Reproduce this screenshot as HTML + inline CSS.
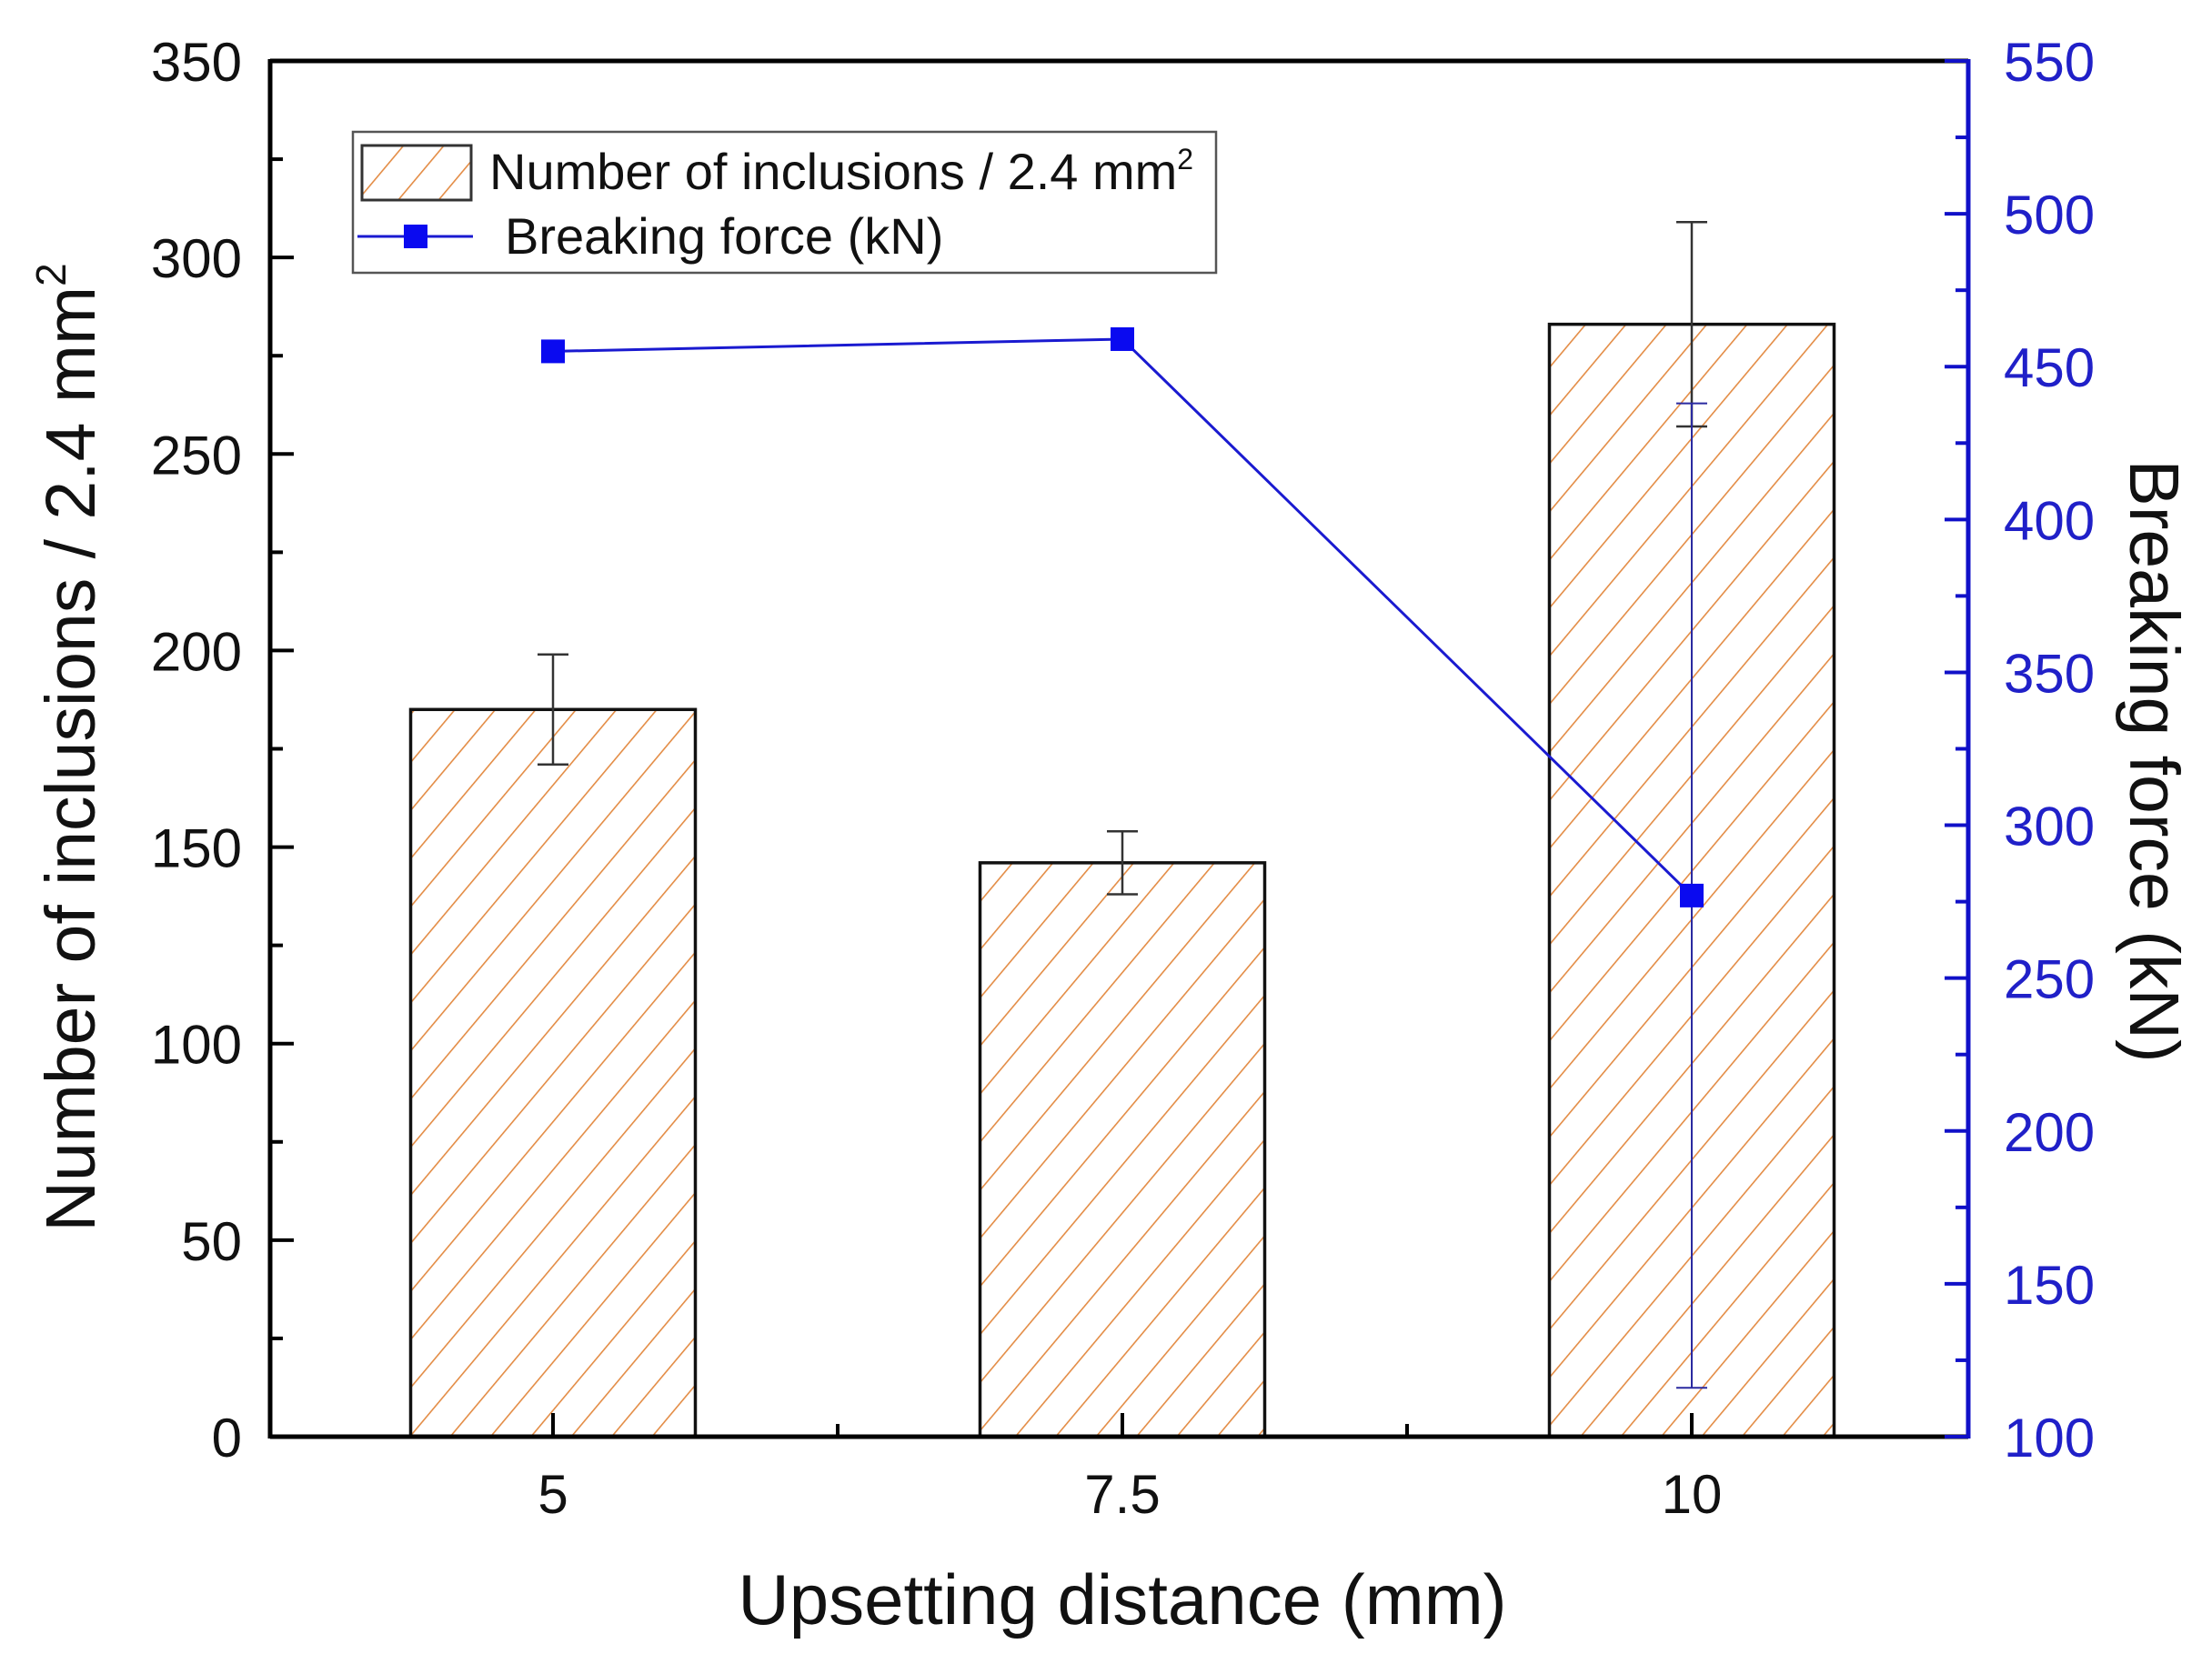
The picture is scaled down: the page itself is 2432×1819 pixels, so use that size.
<!DOCTYPE html>
<html><head><meta charset="utf-8"><style>
html,body{margin:0;padding:0;background:#fff}
svg{display:block;font-family:"Liberation Sans",Arial,sans-serif}
</style></head><body>
<svg id="chart" width="2432" height="1819" viewBox="0 0 2432 1819" xmlns="http://www.w3.org/2000/svg">
<defs>
<pattern id="hatch" patternUnits="userSpaceOnUse" width="34" height="34" patternTransform="rotate(40)">
<line x1="0" y1="0" x2="0" y2="34" stroke="#e38c45" stroke-width="3.2"/>
</pattern>
</defs>
<g id="plot"></g>
</svg>
<script>
const categories = ["5", "7.5", "10"];
const inclusions = [185, 146, 283];
const inclusionErr = [14, 8, 26];
const force = [455, 459, 277];
const forceErr = [0, 0, 161];
const leftTicks = [0, 50, 100, 150, 200, 250, 300, 350];
const rightTicks = [100, 150, 200, 250, 300, 350, 400, 450, 500, 550];

const L = 297, R = 2164, T = 67, B = 1580;
const NS = "http://www.w3.org/2000/svg";
const g = document.getElementById('plot');
const yL = v => B - v / 350 * (B - T);
const yR = v => B - (v - 100) / 450 * (B - T);
const xC = i => 608 + i * 626;
const barW = 313;

function mk(tag, attrs, parent) {
  const e = document.createElementNS(NS, tag);
  for (const k in attrs) e.setAttribute(k, attrs[k]);
  (parent || g).appendChild(e);
  return e;
}

inclusions.forEach((v, i) => {
  const r = mk('rect', {x: xC(i) - barW / 2, y: yL(v), width: barW, height: B - yL(v), fill: 'url(#hatch)', stroke: '#111', 'stroke-width': 3.5});
  
  
  const top = yL(v + inclusionErr[i]), bot = yL(v - inclusionErr[i]);
  const eb = mk('path', {d: `M${xC(i)} ${top}V${bot}M${xC(i)-17} ${top}H${xC(i)+17}M${xC(i)-17} ${bot}H${xC(i)+17}`, stroke: '#333', 'stroke-width': 2.5, fill: 'none'});
  
  
});

mk('line', {x1: L, y1: T, x2: R, y2: T, stroke: '#000', 'stroke-width': 5});
mk('line', {x1: L, y1: B, x2: R, y2: B, stroke: '#000', 'stroke-width': 5});
mk('line', {x1: L, y1: T - 2, x2: L, y2: B + 2, stroke: '#000', 'stroke-width': 5});
mk('line', {x1: R, y1: T - 2, x2: R, y2: B + 2, stroke: '#1010c8', 'stroke-width': 5});

for (let v = 0; v <= 350; v += 25) {
  const len = v % 50 === 0 ? 26 : 14;
  mk('line', {x1: L, y1: yL(v), x2: L + len, y2: yL(v), stroke: '#000', 'stroke-width': 4});
}
leftTicks.forEach(v => {
  const t = mk('text', {x: 266, y: yL(v) + 22, 'text-anchor': 'end', 'font-size': 60, fill: '#111'});
  t.textContent = v;
  
  
});
for (let v = 100; v <= 550; v += 25) {
  const len = v % 50 === 0 ? 26 : 14;
  mk('line', {x1: R, y1: yR(v), x2: R - len, y2: yR(v), stroke: '#1010c8', 'stroke-width': 4});
}
rightTicks.forEach(v => {
  const t = mk('text', {x: 2203, y: yR(v) + 22, 'font-size': 60, fill: '#2020c8'});
  t.textContent = v;
  
  
});
categories.forEach((c, i) => {
  mk('line', {x1: xC(i), y1: B, x2: xC(i), y2: B - 26, stroke: '#000', 'stroke-width': 4});
  if (i < categories.length - 1) mk('line', {x1: xC(i) + 313, y1: B, x2: xC(i) + 313, y2: B - 14, stroke: '#000', 'stroke-width': 4});
  const t = mk('text', {x: xC(i), y: 1664, 'text-anchor': 'middle', 'font-size': 60, fill: '#111'});
  t.textContent = c;
  
  
});

const pts = force.map((v, i) => xC(i) + ',' + yR(v)).join(' ');
const ln = mk('polyline', {points: pts, fill: 'none', stroke: '#1a1ad0', 'stroke-width': 3});


force.forEach((v, i) => {
  if (forceErr[i] > 0) {
    const top = yR(v + forceErr[i]), bot = yR(v - forceErr[i]);
    const e = mk('path', {d: `M${xC(i)} ${top}V${bot}M${xC(i)-17} ${top}H${xC(i)+17}M${xC(i)-17} ${bot}H${xC(i)+17}`, stroke: '#2a2aa0', 'stroke-width': 2, fill: 'none'});
    
    
  }
  const m = mk('rect', {x: xC(i) - 13, y: yR(v) - 13, width: 26, height: 26, fill: '#0a0af0'});
  
  
});
</script>
<svg style="position:absolute;left:0;top:0" width="2432" height="1819" viewBox="0 0 2432 1819" xmlns="http://www.w3.org/2000/svg" font-family="Liberation Sans, Arial, sans-serif">
<g>
<rect x="388" y="145" width="949" height="155" fill="#fff" stroke="#555" stroke-width="2.5"/>
<rect x="398" y="160" width="120" height="60" fill="url(#hatch)" stroke="#333" stroke-width="3"/>
<text x="538" y="208" font-size="56" fill="#111">Number of inclusions / 2.4 mm<tspan dy="-22" font-size="32">2</tspan></text>
<line x1="393" y1="260" x2="520" y2="260" stroke="#1a1ad0" stroke-width="3"/>
<rect x="444" y="247" width="26" height="26" fill="#0a0af0"/>
<text x="555" y="279" font-size="56" fill="#111">Breaking force (kN)</text>
</g>
<text x="104" y="822" font-size="77" fill="#111" text-anchor="middle" transform="rotate(-90 104 822)">Number of inclusions / 2.4 mm<tspan dy="-32" font-size="46">2</tspan></text>
<text x="2342" y="837" font-size="77" fill="#111" text-anchor="middle" transform="rotate(90 2342 837)">Breaking force (kN)</text>
<text x="1234" y="1786" font-size="78" fill="#111" text-anchor="middle">Upsetting distance (mm)</text>
</svg>
</body></html>
